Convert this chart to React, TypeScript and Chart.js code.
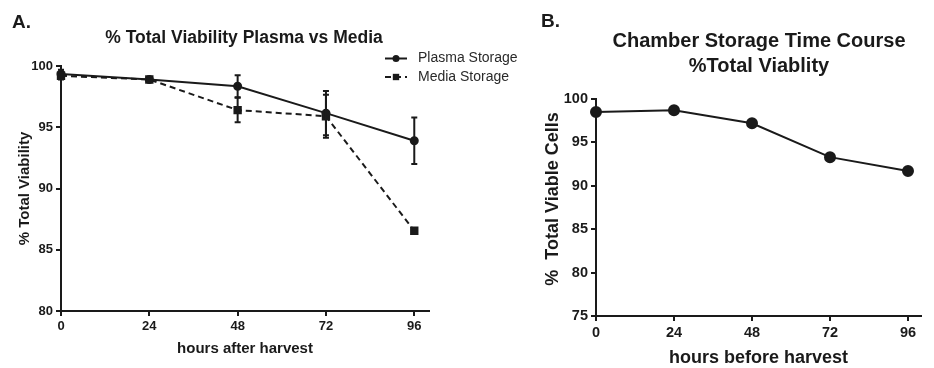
import { useEffect, useRef } from "react";
import { Chart, registerables } from "chart.js";

Chart.register(...registerables);

// ---------- data ----------
const hours = [0, 24, 48, 72, 96];
const plasmaStorage = [99.35, 98.9, 98.35, 96.15, 93.9];
const plasmaStorageErr = [0.35, 0.1, 0.9, 1.8, 1.9];
const mediaStorage = [99.2, 98.9, 96.4, 95.9, 86.55];
const mediaStorageErr = [0.3, 0.1, 1.0, 1.75, 0];
const chamberViability = [98.5, 98.7, 97.2, 93.3, 91.7];

const xTickValues = [0, 24, 48, 72, 96];
const yTicksA = [80, 85, 90, 95, 100];
const yTicksB = [75, 80, 85, 90, 95, 100];

const titleA = "% Total Viability Plasma vs Media";
const titleB = ["Chamber Storage Time Course", "%Total Viablity"];
const xTitleA = "hours after harvest";
const yTitleA = "% Total Viability";
const xTitleB = "hours before harvest";
const yTitleB = "%  Total Viable Cells";
const labelPlasma = "Plasma Storage";
const labelMedia = "Media Storage";

// ---------- styling ----------
const FONT = "'Liberation Sans', Arial, Helvetica, sans-serif";
const INK = "#1a1a1a";

const toPoints = (xs: number[], ys: number[]) => xs.map((x, i) => ({ x, y: ys[i] }));

const errorBarPlugin = {
  id: "errorBars",
  afterDatasetsDraw(chart: any) {
    const { ctx, scales } = chart;
    chart.data.datasets.forEach((ds: any, di: number) => {
      if (!ds.errors) return;
      const meta = chart.getDatasetMeta(di);
      if (meta.hidden) return;
      ctx.save();
      ctx.strokeStyle = ds.borderColor;
      ctx.lineWidth = 2;
      ctx.setLineDash([]);
      ds.data.forEach((p: any, i: number) => {
        const e = ds.errors[i];
        if (!e) return;
        const x = scales.x.getPixelForValue(p.x);
        const yt = scales.y.getPixelForValue(p.y + e);
        const yb = scales.y.getPixelForValue(p.y - e);
        const cw = 3;
        ctx.beginPath();
        ctx.moveTo(x, yt);
        ctx.lineTo(x, yb);
        ctx.moveTo(x - cw, yt);
        ctx.lineTo(x + cw, yt);
        ctx.moveTo(x - cw, yb);
        ctx.lineTo(x + cw, yb);
        ctx.stroke();
      });
      ctx.restore();
    });
  },
};

type TextItem = {
  text: string;
  x: number;
  y: number;
  size: number;
  align: CanvasTextAlign;
  rotate?: boolean;
};

const makeTextPlugin = (items: TextItem[]) => ({
  id: "panelText",
  afterDraw(chart: any) {
    const { ctx } = chart;
    ctx.save();
    ctx.fillStyle = INK;
    items.forEach((it) => {
      ctx.save();
      ctx.font = `bold ${it.size}px ${FONT}`;
      ctx.textAlign = it.align;
      if (it.rotate) {
        ctx.translate(it.x, it.y);
        ctx.rotate(-Math.PI / 2);
        ctx.textBaseline = "middle";
        ctx.fillText(it.text, 0, 0);
      } else {
        ctx.textBaseline = "alphabetic";
        ctx.fillText(it.text, it.x, it.y);
      }
      ctx.restore();
    });
    ctx.restore();
  },
});

const lineLegendPlugin = {
  id: "lineLegend",
  afterDraw(chart: any) {
    const { ctx } = chart;
    const x0 = 385;
    const x1 = 407;
    const tx = 418;
    const rows = [58.5, 77];
    ctx.save();
    chart.data.datasets.forEach((ds: any, i: number) => {
      const y = rows[i];
      ctx.strokeStyle = ds.borderColor;
      ctx.lineWidth = ds.borderWidth;
      ctx.setLineDash(ds.borderDash || []);
      ctx.beginPath();
      ctx.moveTo(x0, y);
      ctx.lineTo(x1, y);
      ctx.stroke();
      ctx.setLineDash([]);
      ctx.fillStyle = ds.pointBackgroundColor;
      const cx = (x0 + x1) / 2;
      if (ds.pointStyle === "rect") {
        const s = Math.SQRT1_2 * ds.pointRadius;
        ctx.fillRect(cx - s, y - s, 2 * s, 2 * s);
      } else {
        ctx.beginPath();
        ctx.arc(cx, y, ds.pointRadius, 0, Math.PI * 2);
        ctx.fill();
      }
      ctx.fillStyle = "#2a2a2a";
      ctx.font = `14px ${FONT}`;
      ctx.textAlign = "left";
      ctx.textBaseline = "middle";
      ctx.fillText(ds.label, tx, y);
    });
    ctx.restore();
  },
};

function axisCommon(opts: {
  min: number;
  max: number;
  ticks: number[];
  tickSize: number;
  titleText: string;
  titleSize: number;
  titlePadding: any;
  titleDisplay?: boolean;
  fit: (s: any) => void;
}) {
  return {
    type: "linear",
    min: opts.min,
    max: opts.max,
    afterBuildTicks: (s: any) => {
      s.ticks = opts.ticks.map((v) => ({ value: v }));
    },
    afterFit: opts.fit,
    grid: {
      drawOnChartArea: false,
      drawTicks: true,
      tickLength: 5,
      color: INK,
      lineWidth: 2,
    },
    border: { display: true, color: INK, width: 2 },
    ticks: {
      font: { family: FONT, size: opts.tickSize, weight: "bold" },
      color: INK,
      padding: 3,
      maxRotation: 0,
      autoSkip: false,
    },
    title: {
      display: opts.titleDisplay !== false,
      text: opts.titleText,
      color: INK,
      font: { family: FONT, size: opts.titleSize, weight: "bold", lineHeight: 1.2 },
      padding: opts.titlePadding,
    },
  };
}

function PanelA() {
  const ref = useRef<HTMLCanvasElement | null>(null);
  useEffect(() => {
    if (!ref.current) return;
    const chart = new Chart(ref.current, {
      type: "line",
      data: {
        datasets: [
          {
            label: labelPlasma,
            data: toPoints(hours, plasmaStorage),
            errors: plasmaStorageErr,
            borderColor: INK,
            backgroundColor: INK,
            pointBackgroundColor: INK,
            pointBorderColor: INK,
            borderWidth: 2,
            pointRadius: 3.5,
            pointStyle: "circle",
            clip: false,
          } as any,
          {
            label: labelMedia,
            data: toPoints(hours, mediaStorage),
            errors: mediaStorageErr,
            borderColor: INK,
            backgroundColor: INK,
            pointBackgroundColor: INK,
            pointBorderColor: INK,
            borderWidth: 2,
            borderDash: [6, 4],
            pointRadius: 4.5,
            pointStyle: "rect",
            clip: false,
          } as any,
        ],
      },
      options: {
        responsive: false,
        devicePixelRatio: 1,
        animation: false,
        events: [],
        layout: { padding: { left: 0, top: 66, right: 111, bottom: 0 } },
        plugins: { legend: { display: false }, tooltip: { enabled: false }, title: { display: false } },
        scales: {
          x: axisCommon({
            min: 0,
            max: 100,
            ticks: xTickValues,
            tickSize: 13,
            titleText: xTitleA,
            titleSize: 15,
            titlePadding: { top: 0, bottom: 10 },
            fit: (s) => {
              s.height = 57;
            },
          }),
          y: axisCommon({
            min: 80,
            max: 100,
            ticks: yTicksA,
            tickSize: 13,
            titleText: yTitleA,
            titleSize: 15,
            titlePadding: { top: 16, bottom: 0 },
            fit: (s) => {
              s.width = 61;
            },
          }),
        } as any,
      },
      plugins: [
        errorBarPlugin,
        lineLegendPlugin,
        makeTextPlugin([
          { text: "A.", x: 12, y: 27.5, size: 19, align: "left" },
          { text: titleA, x: 244, y: 42.7, size: 17.5, align: "center" },
        ]),
      ],
    } as any);
    return () => chart.destroy();
  }, []);
  return (
    <canvas
      ref={ref}
      width={540}
      height={368}
      style={{ position: "absolute", left: 0, top: 0, width: 540, height: 368 }}
    />
  );
}

function PanelB() {
  const ref = useRef<HTMLCanvasElement | null>(null);
  useEffect(() => {
    if (!ref.current) return;
    const chart = new Chart(ref.current, {
      type: "line",
      data: {
        datasets: [
          {
            label: "Chamber Storage",
            data: toPoints(hours, chamberViability),
            borderColor: INK,
            backgroundColor: INK,
            pointBackgroundColor: INK,
            pointBorderColor: INK,
            borderWidth: 2,
            pointRadius: 5,
            pointStyle: "circle",
            clip: false,
          } as any,
        ],
      },
      options: {
        responsive: false,
        devicePixelRatio: 1,
        animation: false,
        events: [],
        layout: { padding: { left: 0, top: 99, right: 13, bottom: 0 } },
        plugins: { legend: { display: false }, tooltip: { enabled: false }, title: { display: false } },
        scales: {
          x: axisCommon({
            min: 0,
            max: 100,
            ticks: xTickValues,
            tickSize: 14.5,
            titleText: xTitleB,
            titleSize: 18,
            titlePadding: { top: 0, bottom: -1 },
            fit: (s) => {
              s.height = 52;
            },
          }),
          y: axisCommon({
            min: 75,
            max: 100,
            ticks: yTicksB,
            tickSize: 14.5,
            titleText: yTitleB,
            titleSize: 18,
            titlePadding: { top: 0, bottom: 0 },
            titleDisplay: false,
            fit: (s) => {
              s.width = 126;
            },
          }),
        } as any,
      },
      plugins: [
        makeTextPlugin([
          { text: "B.", x: 71, y: 26.5, size: 19, align: "left" },
          { text: titleB[0], x: 289, y: 46.7, size: 20, align: "center" },
          { text: titleB[1], x: 289, y: 71.5, size: 20, align: "center" },
          { text: yTitleB, x: 83, y: 199, size: 18, align: "center", rotate: true },
        ]),
      ],
    } as any);
    return () => chart.destroy();
  }, []);
  return (
    <canvas
      ref={ref}
      width={464}
      height={368}
      style={{ position: "absolute", left: 470, top: 0, width: 464, height: 368 }}
    />
  );
}

export default function App() {
  return (
    <div
      style={{
        position: "fixed",
        left: 0,
        top: 0,
        width: 934,
        height: 368,
        background: "#ffffff",
        overflow: "hidden",
      }}
    >
      <PanelA />
      <PanelB />
    </div>
  );
}
